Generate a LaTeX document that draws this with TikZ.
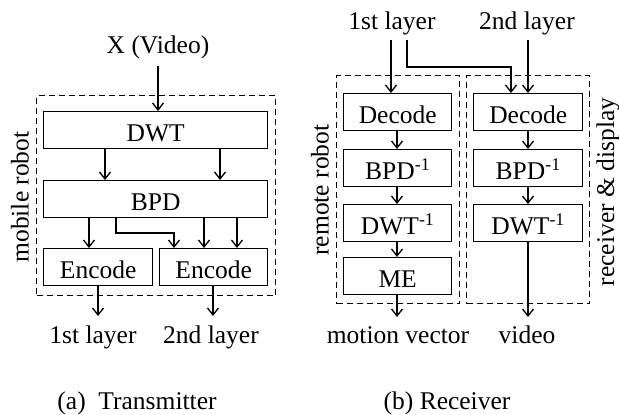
\documentclass[tikz,border=0pt]{standalone}
\usepackage{fontspec}
\setmainfont{Liberation Serif}
\usetikzlibrary{arrows.meta}
\begin{document}
\begin{tikzpicture}[x=1pt,y=-1pt,
  every node/.style={font=\fontsize{25.5}{30}\selectfont, inner sep=0pt},
  blk/.style={draw, line width=1.4pt, minimum height=37pt, anchor=north west, text depth=0pt, text height=22.5pt},
  grp/.style={draw, line width=1.3pt, dash pattern=on 6pt off 4pt},
  arr/.style={line width=1.3pt, -{Straight Barb[length=7pt,width=11pt]}},
  lbl/.style={anchor=base},
  vlbl/.style={rotate=90, anchor=center}]
\useasboundingbox (0,0) rectangle (619,415);
% ---------- (a) Transmitter ----------
\node[grp, minimum width=239pt, minimum height=200pt, anchor=north west] (mr) at (36,95) {};
\node[vlbl] (mrl) at (20,197) {mobile robot};
\node[lbl] (x) at (158,53) {X (Video)};
\node[blk, minimum width=224pt] (dwt) at (43,111) {DWT};
\node[blk, minimum width=224pt] (bpd) at (43,180) {BPD};
\node[blk, minimum width=109pt] (enc1) at (43,248) {Encode};
\node[blk, minimum width=108pt] (enc2) at (159,248) {Encode};
\node[lbl] (o1) at (93,343) {1st layer};
\node[lbl] (o2) at (211,343) {2nd layer};
\coordinate (o1t) at (98,316);
\coordinate (o2t) at (213,316);
\node[lbl] (capa) at (137,409) {(a)\ \ Transmitter};
\draw[arr] (x.south -| 158,0) ++(0,7) -- (158,111);
\draw[arr] (dwt.south -| 105,0) -- (bpd.north -| 105,0);
\draw[arr] (dwt.south -| 220,0) -- (bpd.north -| 220,0);
\draw[arr] (bpd.south -| 89,0) -- (enc1.north -| 89,0);
\draw[arr] (bpd.south -| 116,0) -- (116,233) -- (174,233) -- (enc2.north -| 174,0);
\draw[arr] (bpd.south -| 204,0) -- (enc2.north -| 204,0);
\draw[arr] (bpd.south -| 237,0) -- (enc2.north -| 237,0);
\draw[arr] (enc1.south -| 98,0) -- (o1t);
\draw[arr] (enc2.south -| 213,0) -- (o2t);
% ---------- (b) Receiver ----------
\node[lbl] (l1) at (392,30) {1st layer};
\node[lbl] (l2) at (527,30) {2nd layer};
\node[grp, minimum width=123pt, minimum height=228pt, anchor=north west] (rr) at (336,75) {};
\node[grp, minimum width=123pt, minimum height=228pt, anchor=north west] (rd) at (466,75) {};
\node[vlbl] (rrl) at (320,190) {remote robot};
\node[vlbl] (rdl) at (608,192) {receiver \& display};
\node[blk, minimum width=108pt] (dec1) at (343,93) {Decode};
\node[blk, minimum width=108pt] (ibpd1) at (343,149) {BPD\textsuperscript{-1}};
\node[blk, minimum width=108pt] (idwt1) at (343,204) {DWT\textsuperscript{-1}};
\node[blk, minimum width=108pt] (me) at (343,257) {ME};
\node[blk, minimum width=109pt] (dec2) at (473,93) {Decode};
\node[blk, minimum width=109pt] (ibpd2) at (473,149) {BPD\textsuperscript{-1}};
\node[blk, minimum width=109pt] (idwt2) at (473,204) {DWT\textsuperscript{-1}};
\node[lbl] (mv) at (398,343) {motion vector};
\node[lbl] (vid) at (527,343) {video};
\coordinate (mvt) at (397,317);
\coordinate (vidt) at (528,317);
\node[lbl] (capb) at (447,409) {(b) Receiver};
\draw[arr] (391,40) -- (dec1.north -| 391,0);
\draw[arr] (407,40) -- (407,67) -- (511,67) -- (dec2.north -| 511,0);
\draw[arr] (528,40) -- (dec2.north -| 528,0);
\draw[arr] (dec1.south -| 397,0) -- (ibpd1.north -| 397,0);
\draw[arr] (ibpd1.south -| 397,0) -- (idwt1.north -| 397,0);
\draw[arr] (idwt1.south -| 397,0) -- (me.north -| 397,0);
\draw[arr] (me.south -| 397,0) -- (mvt);
\draw[arr] (dec2.south -| 528,0) -- (ibpd2.north -| 528,0);
\draw[arr] (ibpd2.south -| 528,0) -- (idwt2.north -| 528,0);
\draw[arr] (idwt2.south -| 528,0) -- (vidt);
\end{tikzpicture}
\end{document}
